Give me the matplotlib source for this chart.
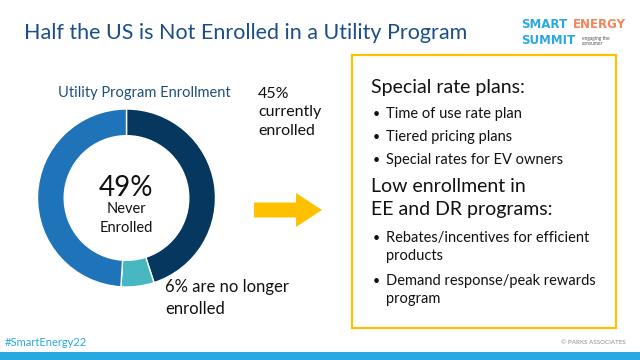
import matplotlib
matplotlib.use('Agg')
from matplotlib import pyplot as plt, patches

plt.rcParams['font.family'] = ['Lato', 'DejaVu Sans']

# donut data (clockwise from top)
segments = ['Currently enrolled', 'No longer enrolled', 'Never enrolled']
shares = [45, 6, 49]
seg_colors = ['#06375f', '#47b7c2', '#1f74b9']

title = 'Half the US is Not Enrolled in a Utility Program'
chart_title = 'Utility Program Enrollment'
rate_items = ['Time of use rate plan', 'Tiered pricing plans', 'Special rates for EV owners']
ee_items = [['Rebates/incentives for efficient', 'products'],
            ['Demand response/peak rewards', 'program']]

fig = plt.figure(figsize=(6.4, 3.6), dpi=100)

# canvas in pixel coords
bg = fig.add_axes([0, 0, 1, 1])
bg.set_xlim(0, 640)
bg.set_ylim(360, 0)
bg.axis('off')

bg.text(24, 33, title, fontsize=15.5, color='#1c4e8a', va='center', ha='left')

# logo
logo = dict(fontsize=8.5, fontweight='bold', family='DejaVu Sans', va='center')
bg.text(521, 25, 'SMART', color='#29a9e1', **logo)
bg.text(573, 25, 'ENERGY', color='#f0845a', **logo)
bg.text(521, 41, 'SUMMIT', color='#29a9e1', **logo)
bg.text(582, 41, 'engaging the\nconsumer', fontsize=3.5, color='#555555', va='center', linespacing=0.9)

# footer
bg.add_patch(patches.Rectangle((0, 352), 640, 8, color='#29a9e1', lw=0))
bg.text(5, 343, '#SmartEnergy22', fontsize=8, color='#29a9e1', va='center')
bg.text(626, 343, '© PARKS ASSOCIATES', fontsize=4.5, color='#8a8a8a', va='center', ha='right')

# yellow box
bg.add_patch(patches.Rectangle((352, 55), 264, 273, fill=False, ec='#ffc000', lw=1.6))
bg.text(371, 88, 'Special rate plans:', fontsize=14, color='#111111', va='center')
y = 114
for item in rate_items:
    bg.text(373, y, '•', fontsize=9, color='#111111', va='center')
    bg.text(386, y, item, fontsize=10.5, color='#111111', va='center')
    y += 23
bg.text(371, 187, 'Low enrollment in', fontsize=14, color='#111111', va='center')
bg.text(371, 209, 'EE and DR programs:', fontsize=14, color='#111111', va='center')
y = 238
for first, second in ee_items:
    bg.text(373, y, '•', fontsize=9, color='#111111', va='center')
    bg.text(386, y, first, fontsize=10.5, color='#111111', va='center')
    bg.text(386, y + 18, second, fontsize=10.5, color='#111111', va='center')
    y += 43

# arrow
bg.add_patch(patches.FancyArrow(254, 210, 68, 0, width=15, head_width=34, head_length=26,
                                length_includes_head=True, color='#ffc000', lw=0))

# donut labels
bg.text(144, 93, chart_title, fontsize=10.5, color='#1f4e79', va='center', ha='center')
bg.text(258, 87, '45%\ncurrently\nenrolled', fontsize=11.5, color='#111111', va='top', linespacing=1.4)
bg.text(165, 298, '6% are no longer\nenrolled', fontsize=12, color='#111111', va='center', linespacing=1.4)
bg.text(126, 188, '49%', fontsize=20, color='#111111', va='center', ha='center')
bg.text(126, 209, 'Never', fontsize=10.5, color='#111111', va='center', ha='center')
bg.text(126, 228, 'Enrolled', fontsize=10.5, color='#111111', va='center', ha='center')

# donut
r = 89
cx, cy = 126.5, 198
ax = fig.add_axes([(cx - r) / 640, 1 - (cy + r) / 360, 2 * r / 640, 2 * r / 360])
ax.pie(shares, colors=seg_colors, startangle=90, counterclock=False, radius=1,
       wedgeprops=dict(width=0.3, edgecolor='white', linewidth=1))
ax.set_xlim(-1, 1)
ax.set_ylim(-1, 1)
ax.set_aspect('auto')
ax.axis('off')

fig.savefig('out.png', dpi=100)
